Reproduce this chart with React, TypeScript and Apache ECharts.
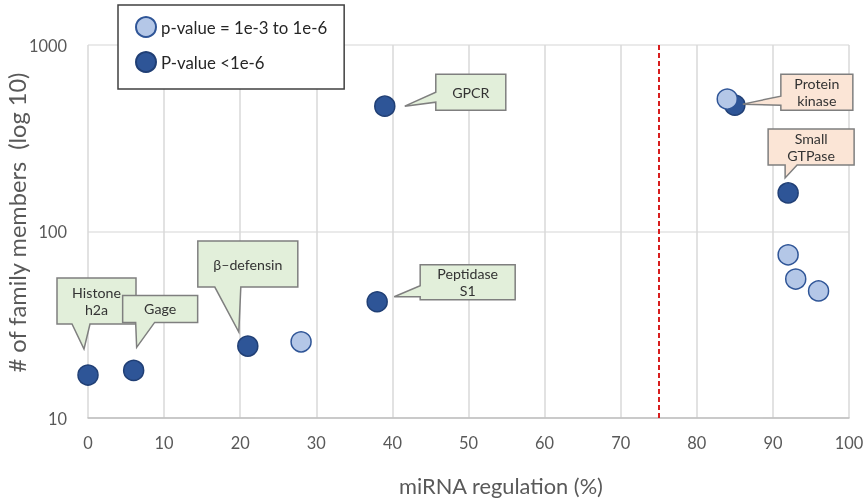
import React, { useEffect, useRef } from "react";
import * as echarts from "echarts";

const xDark = [0, 6, 21, 38, 39, 85, 92];
const yDark = [17, 18, 24.3, 42, 470, 476, 161];
const xLight = [28, 84, 92, 93, 96];
const yLight = [25.6, 513, 75, 55.6, 48];
const xTicks = [0, 100, 10];
const yRange = [10, 1000];
const thresholdX = 75;
const legendNames = ["p-value = 1e-3 to 1e-6", "P-value <1e-6"];
const xTitle = "miRNA regulation (%)";
const yTitle = "# of family members  (log 10)";

// callouts anchored to dark points (index into xDark/yDark)
const calloutTexts = ["Histone\nh2a", "Gage", "β–defensin", "Peptidase\nS1", "GPCR", "Protein\nkinase", "Small\nGTPase"];
const calloutAnchor = [0, 1, 2, 3, 4, 5, 6];
const calloutFill = ["#e2efda", "#e2efda", "#e2efda", "#e2efda", "#e2efda", "#fbe5d6", "#fbe5d6"];
// layout: box offset from point [dx, dy, w, h], edge, base [a, b], tip offset [tx, ty]
const calloutLayout: any[] = [
  { box: [-31, -97, 79, 46], edge: "bottom", base: [15, 33], tip: [-4, -26] },
  { box: [-11, -75, 75, 27], edge: "bottom", base: [13, 32], tip: [3, -23] },
  { box: [-50, -105, 100, 46], edge: "bottom", base: [17, 43], tip: [-9, -14] },
  { box: [43, -37, 95, 35], edge: "left", base: [21, 32], tip: [17, -5] },
  { box: [51, -32, 70, 36], edge: "left", base: [18, 28], tip: [20, 0] },
  { box: [46, -31, 72, 36], edge: "left", base: [22, 31], tip: [8, -1] },
  { box: [-20, -64, 86, 36], edge: "bottom", base: [17, 29], tip: [-3, -15] },
];

const FONT = "Lato, 'Open Sans', sans-serif";

function fitSize(text: string, target: number, fallback: number): number {
  try {
    const ctx = document.createElement("canvas").getContext("2d");
    if (!ctx) return fallback;
    ctx.font = "100px Lato";
    const w = ctx.measureText(text).width;
    if (!w) return fallback;
    return Math.round((100 * target / w) * 10) / 10;
  } catch (e) {
    return fallback;
  }
}

export default function App() {
  const ref = useRef<HTMLDivElement>(null);
  useEffect(() => {
    if (!ref.current) return;
    const chart = echarts.init(ref.current, null, { renderer: "svg" });
    const darkData = xDark.map((x, i) => [x, yDark[i]]);
    const lightData = xLight.map((x, i) => [x, yLight[i]]);

    const tickFs = fitSize("1000", 38, 16);
    const xTitleFs = fitSize(xTitle, 205, 20);
    const yTitleFs = fitSize(yTitle, 301, 20);
    const legendFs = fitSize(legendNames[0], 166, 16.5);
    const calloutFs = fitSize("Peptidase", 61, 14);

    chart.setOption({
      animation: false,
      textStyle: { fontFamily: FONT },
      grid: { left: 88, right: 16, top: 45, bottom: 84, outerBoundsMode: "none", containLabel: false },
      legend: {
        data: legendNames,
        orient: "vertical",
        left: 118,
        top: 5,
        padding: [11, 17, 16, 17],
        itemWidth: 20,
        itemHeight: 20,
        itemGap: 13,
        borderColor: "#404040",
        borderWidth: 1.5,
        backgroundColor: "#fff",
        icon: "circle",
        textStyle: { fontSize: legendFs, color: "#262626", fontFamily: FONT },
      },
      xAxis: {
        type: "value",
        min: xTicks[0],
        max: xTicks[1],
        interval: xTicks[2],
        name: xTitle,
        nameLocation: "middle",
        nameGap: 56,
        nameMoveOverlap: false,
        nameTextStyle: { fontSize: xTitleFs, color: "#595959", fontFamily: FONT, padding: [0, 0, 0, 65] },
        axisLine: { show: true, lineStyle: { color: "#bfbfbf", width: 1.5 } },
        axisTick: { show: false },
        axisLabel: { fontSize: tickFs, color: "#595959", margin: 16, fontFamily: FONT },
        splitLine: { show: true, lineStyle: { color: "#d9d9d9", width: 1.5 } },
      },
      yAxis: {
        type: "log",
        logBase: 10,
        min: yRange[0],
        max: yRange[1],
        name: yTitle,
        nameLocation: "middle",
        nameGap: Math.round(88 - 15 - yTitleFs * 0.6),
        nameMoveOverlap: false,
        nameTextStyle: { fontSize: yTitleFs, color: "#595959", fontFamily: FONT, padding: [0, 0, 0, 18] },
        axisLine: { show: false },
        axisTick: { show: false },
        axisLabel: { fontSize: tickFs, color: "#595959", margin: 21, fontFamily: FONT, formatter: (v: number) => String(Math.round(v)) },
        splitLine: { show: true, lineStyle: { color: "#e3e3e3", width: 1.5 } },
        minorTick: { show: false },
      },
      series: [
        {
          name: legendNames[1],
          type: "scatter",
          data: darkData,
          symbolSize: 20,
          itemStyle: { color: "#2e5597", borderColor: "#203f75", borderWidth: 1.5, opacity: 1 },
          z: 3,
          markLine: {
            silent: true,
            symbol: "none",
            label: { show: false },
            lineStyle: { color: "#d81e1e", type: [5, 3], width: 2 },
            data: [{ xAxis: thresholdX }],
          },
        },
        {
          name: legendNames[0],
          type: "scatter",
          data: lightData,
          symbolSize: 20,
          itemStyle: { color: "#b4c7e7", borderColor: "#2f5597", borderWidth: 1.5, opacity: 1 },
          z: 4,
        },
      ],
    });

    const graphics: any[] = [];
    calloutTexts.forEach((txt, i) => {
      const idx = calloutAnchor[i];
      const p = chart.convertToPixel({ gridIndex: 0 }, [xDark[idx], yDark[idx]]) as number[];
      const L = calloutLayout[i];
      const bx = p[0] + L.box[0];
      const by = p[1] + L.box[1];
      const w = L.box[2];
      const h = L.box[3];
      const tx = p[0] + L.tip[0];
      const ty = p[1] + L.tip[1];
      const [a, b] = L.base;
      let pts: number[][];
      if (L.edge === "bottom") {
        pts = [[bx, by], [bx + w, by], [bx + w, by + h], [bx + b, by + h], [tx, ty], [bx + a, by + h], [bx, by + h]];
      } else {
        pts = [[bx, by], [bx + w, by], [bx + w, by + h], [bx, by + h], [bx, by + b], [tx, ty], [bx, by + a]];
      }
      graphics.push({
        type: "polygon",
        z: 100,
        shape: { points: pts },
        style: { fill: calloutFill[i], stroke: "#7f7f7f", lineWidth: 1.5 },
      });
      graphics.push({
        type: "text",
        z: 101,
        x: bx + w / 2,
        y: by + h / 2,
        style: {
          text: txt,
          align: "center",
          verticalAlign: "middle",
          fontSize: calloutFs,
          lineHeight: 17,
          fontFamily: FONT,
          fill: "#333333",
        },
      });
    });
    chart.setOption({ graphic: graphics });

    return () => chart.dispose();
  }, []);
  return <div ref={ref} style={{ position: "fixed", left: 0, top: 0, width: 865, height: 502 }} />;
}
